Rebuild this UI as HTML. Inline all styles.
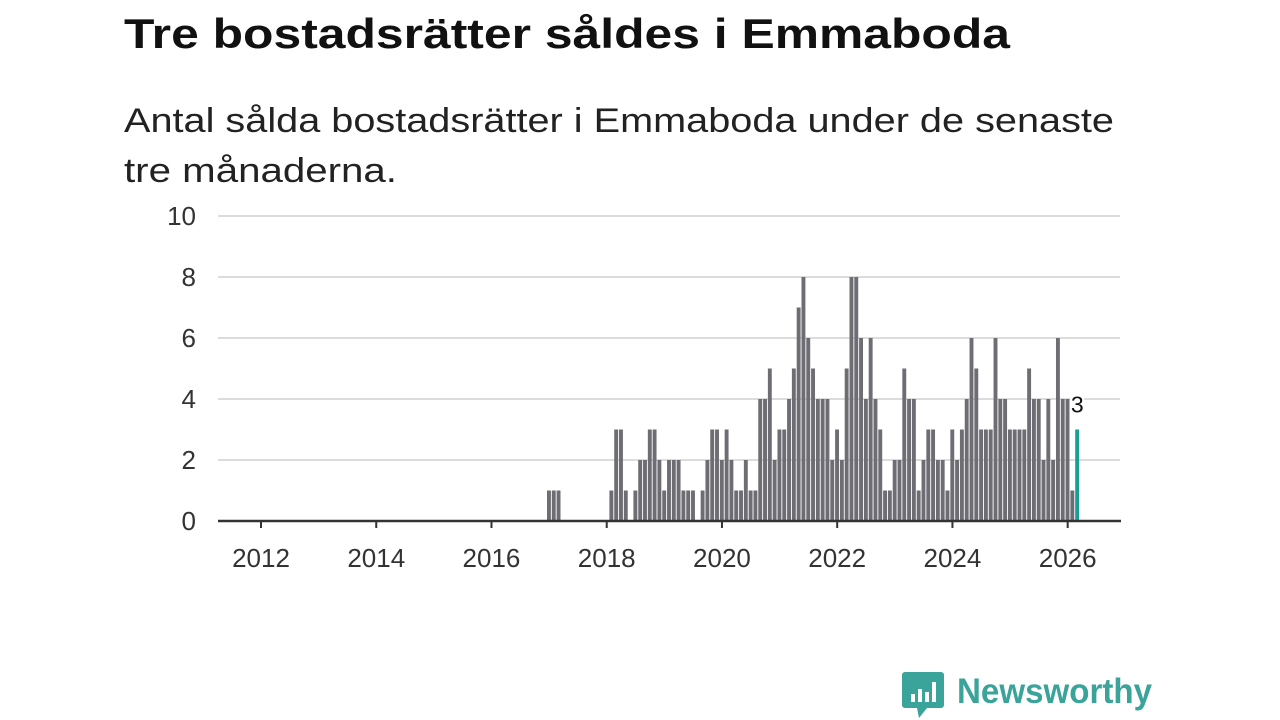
<!DOCTYPE html>
<html><head><meta charset="utf-8"><style>
html,body{margin:0;padding:0;background:#fff;}
svg{display:block;font-family:"Liberation Sans",sans-serif;}
</style></head><body>
<svg id="chart" width="1280" height="720" viewBox="0 0 1280 720">
<text x="124" y="48" font-size="42" font-weight="bold" fill="#111" textLength="886" lengthAdjust="spacingAndGlyphs">Tre bostadsrätter såldes i Emmaboda</text>
<text x="124" y="132" font-size="34" fill="#222" textLength="990" lengthAdjust="spacingAndGlyphs">Antal sålda bostadsrätter i Emmaboda under de senaste</text>
<text x="124" y="182" font-size="34" fill="#222" textLength="273" lengthAdjust="spacingAndGlyphs">tre månaderna.</text>
<g id="grid"></g>
<g id="bars"></g>
<g id="xaxis"></g>
<g>
<path d="M905 672 h36 a3 3 0 0 1 3 3 v30 a3 3 0 0 1 -3 3 h-14 l-8 10 l-2 -10 h-12 a3 3 0 0 1 -3 -3 v-30 a3 3 0 0 1 3 -3z" fill="#3aa39a"/>
<rect x="911" y="694" width="4" height="8" fill="#fff"/><rect x="918" y="689" width="4" height="13" fill="#fff"/><rect x="925" y="692" width="4" height="10" fill="#fff"/><rect x="932" y="682" width="4" height="20" fill="#fff"/>
<text x="957" y="703" font-size="35" font-weight="bold" fill="#3aa39a" textLength="195" lengthAdjust="spacingAndGlyphs">Newsworthy</text>
</g>
</svg>
<script>
const startYear = 2017;
const values = [
1,1,1,0,0,0,0,0,0,0,0,0,
0,1,3,3,1,0,1,2,2,3,3,2,
1,2,2,2,1,1,1,0,1,2,3,3,
2,3,2,1,1,2,1,1,4,4,5,2,
3,3,4,5,7,8,6,5,4,4,4,2,
3,2,5,8,8,6,4,6,4,3,1,1,
2,2,5,4,4,1,2,3,3,2,2,1,
3,2,3,4,6,5,3,3,3,6,4,4,
3,3,3,3,5,4,4,2,4,2,6,4,
4,1,3];
const yTicks = [0,2,4,6,8,10];
const xTicks = [2012,2014,2016,2018,2020,2022,2024,2026];

const NS = "http://www.w3.org/2000/svg";
function x(yearFrac){ return 261 + (yearFrac-2012)*57.62; }
function y(v){ return 521 - v*30.5; }
function mk(tag, attrs, parent){ const e=document.createElementNS(NS,tag); for(const k in attrs) e.setAttribute(k,attrs[k]); parent.appendChild(e); return e; }

const grid=document.getElementById('grid');
yTicks.forEach(t=>{
  if(t>0){ const l=mk('line',{x1:218,x2:1120,y1:y(t),y2:y(t),stroke:'#dcdcdc','stroke-width':2},grid);
  
   }
  const tx=mk('text',{x:196,y:y(t)+9,'font-size':26,fill:'#333','text-anchor':'end'},grid);
  tx.textContent=t;
  
  
});

const bars=document.getElementById('bars');
values.forEach((v,i)=>{
  if(v<=0) return;
  const cx=x(startYear+i/12);
  const last = i===values.length-1;
  const r=mk('rect',{x:cx-2.1,y:y(v),width:3.9,height:y(0)-y(v),fill:last?'#1a9e94':'#6e6d73'},bars);
  
  
  if(last){
    const t=mk('text',{x:cx,y:y(v)-17,'font-size':23,fill:'#111','text-anchor':'middle',stroke:'#fff','stroke-width':4,'paint-order':'stroke'},bars);
    t.textContent=v;
    
    
  }
});

const xa=document.getElementById('xaxis');
const base=mk('line',{x1:218,x2:1121,y1:521,y2:521,stroke:'#333','stroke-width':2.5},xa);


xTicks.forEach(t=>{
  const tk=mk('line',{x1:x(t),x2:x(t),y1:521,y2:528,stroke:'#333','stroke-width':2},xa);
  
  
  const tx=mk('text',{x:x(t),y:567,'font-size':26,fill:'#333','text-anchor':'middle'},xa);
  tx.textContent=t;
  
  
});
</script>
</body></html>
